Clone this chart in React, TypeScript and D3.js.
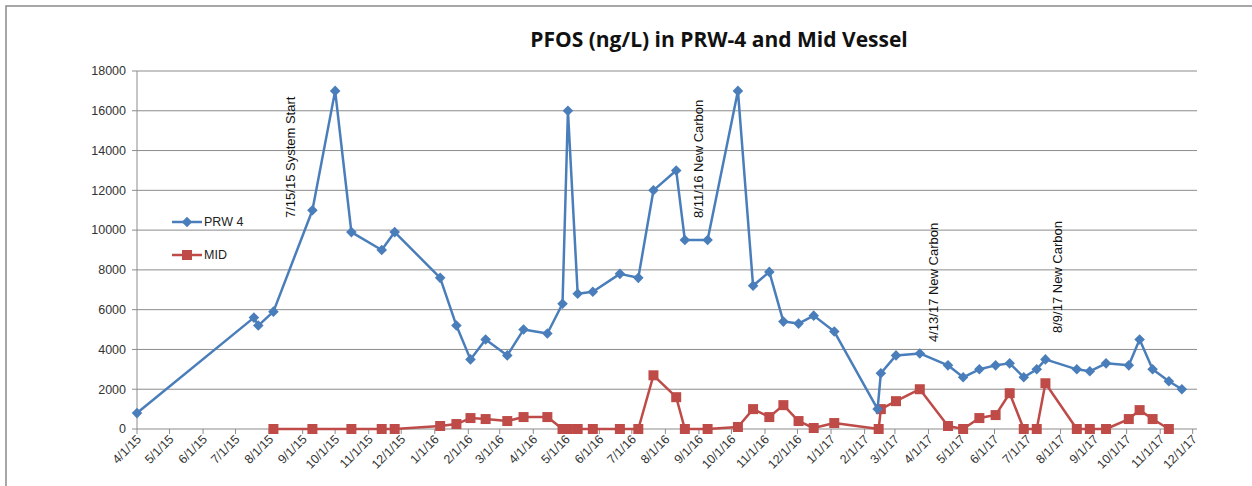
import React from 'react';
import * as d3 from 'd3';

// PRW-4 samples (date, PFOS ng/L)
const prwDates = [
  '4/1/15', '7/18/15', '7/22/15', '8/5/15', '9/10/15', '10/1/15', '10/16/15', '11/13/15', '11/25/15',
  '1/6/16', '1/21/16', '2/3/16', '2/17/16', '3/8/16', '3/23/16', '4/14/16', '4/28/16', '5/3/16',
  '5/12/16', '5/26/16', '6/20/16', '7/7/16', '7/21/16', '8/11/16', '8/19/16', '9/9/16', '10/7/16',
  '10/21/16', '11/5/16', '11/18/16', '12/2/16', '12/16/16', '1/4/17', '2/13/17', '2/16/17', '3/2/17',
  '3/24/17', '4/19/17', '5/3/17', '5/18/17', '6/2/17', '6/15/17', '6/28/17', '7/10/17', '7/18/17',
  '8/16/17', '8/28/17', '9/12/17', '10/3/17', '10/13/17', '10/25/17', '11/9/17', '11/21/17',
];
const prwValues = [
  800, 5600, 5200, 5900, 11000, 17000, 9900, 9000, 9900,
  7600, 5200, 3500, 4500, 3700, 5000, 4800, 6300, 16000,
  6800, 6900, 7800, 7600, 12000, 13000, 9500, 9500, 17000,
  7200, 7900, 5400, 5300, 5700, 4900, 1000, 2800, 3700,
  3800, 3200, 2600, 3000, 3200, 3300, 2600, 3000, 3500,
  3000, 2900, 3300, 3200, 4500, 3000, 2400, 2000,
];

// Mid vessel samples
const midDates = [
  '8/5/15', '9/10/15', '10/16/15', '11/13/15', '11/25/15', '1/6/16', '1/21/16', '2/3/16',
  '2/17/16', '3/8/16', '3/23/16', '4/14/16', '4/28/16', '5/3/16', '5/12/16', '5/26/16',
  '6/20/16', '7/7/16', '7/21/16', '8/11/16', '8/19/16', '9/9/16', '10/7/16', '10/21/16',
  '11/5/16', '11/18/16', '12/2/16', '12/16/16', '1/4/17', '2/14/17', '2/16/17', '3/2/17',
  '3/24/17', '4/19/17', '5/3/17', '5/18/17', '6/2/17', '6/15/17', '6/28/17', '7/10/17',
  '7/18/17', '8/16/17', '8/28/17', '9/12/17', '10/3/17', '10/13/17', '10/25/17', '11/9/17',
];
const midValues = [
  0, 0, 0, 0, 0, 150, 250, 550,
  500, 400, 600, 600, 0, 0, 0, 0,
  0, 0, 2700, 1600, 0, 0, 100, 1000,
  600, 1200, 400, 50, 300, 0, 1000, 1400,
  2000, 150, 0, 550, 700, 1800, 0, 0,
  2300, 0, 0, 0, 500, 950, 500, 0,
];

const seriesNames = ['PRW 4', 'MID'];
const seriesColors = ['#4A7EBB', '#BE4B48'];
const yTicks = [0, 2000, 4000, 6000, 8000, 10000, 12000, 14000, 16000, 18000];
const xStart = '4/1/15';
const xEnd = '12/5/17';

const notes = [
  { label: '7/15/15  System Start', x: 290, yBottom: 218 },
  { label: '8/11/16 New Carbon', x: 698, yBottom: 218 },
  { label: '4/13/17  New Carbon', x: 933, yBottom: 342 },
  { label: '8/9/17  New Carbon', x: 1057, yBottom: 333 },
];

const width = 1252;
const height = 486;
const plot = { left: 137, right: 1197, top: 71, bottom: 429 };

const parse = d3.timeParse('%m/%d/%y');
const fmt = d3.timeFormat('%-m/%-d/%y');

export default function App() {
  const x = d3.scaleTime()
    .domain([parse(xStart), parse(xEnd)])
    .range([plot.left, plot.right]);
  const y = d3.scaleLinear()
    .domain([0, 18000])
    .range([plot.bottom, plot.top]);

  const prw = prwDates.map((d, i) => ({ date: parse(d), value: prwValues[i] }));
  const mid = midDates.map((d, i) => ({ date: parse(d), value: midValues[i] }));

  const line = d3.line<any>().x(d => x(d.date)).y(d => y(d.value));
  const diamond = d3.symbol(d3.symbolSquare, 56)();
  const square = d3.symbol(d3.symbolSquare, 100)();

  const months = d3.timeMonth.range(parse(xStart), d3.timeDay.offset(parse('12/1/17'), 1));

  const font = 'Liberation Sans, Arial, sans-serif';

  return (
    <svg width={width} height={height} style={{ position: 'absolute', left: 0, top: 0, background: '#fff' }}>
      <rect x={6} y={6} width={1300} height={600} fill="#fff" stroke="#8a8a8a" strokeWidth={1.5} />

      <text x={719} y={47} textAnchor="middle" fontFamily="Open Sans, sans-serif" fontWeight={700}
        fontSize={21} fill="#111">PFOS (ng/L) in PRW-4 and Mid Vessel</text>

      {/* gridlines and y axis */}
      {yTicks.map(t => (
        <g key={t}>
          <line x1={plot.left} x2={plot.right} y1={y(t)} y2={y(t)} stroke="#8c8c8c" strokeWidth={1} />
          <line x1={plot.left - 5} x2={plot.left} y1={y(t)} y2={y(t)} stroke="#8c8c8c" strokeWidth={1} />
          <text x={plot.left - 11} y={y(t)} dy="0.35em" textAnchor="end" fontFamily={font}
            fontSize={12.5} fill="#333">{t}</text>
        </g>
      ))}
      <line x1={plot.left} x2={plot.left} y1={plot.top} y2={plot.bottom} stroke="#8c8c8c" strokeWidth={1} />

      {/* x axis */}
      {months.map(m => (
        <g key={m.getTime()} transform={`translate(${x(m)},${plot.bottom})`}>
          <line y1={0} y2={5} stroke="#8c8c8c" strokeWidth={1} />
          <text transform="translate(5,11) rotate(-45)" textAnchor="end" fontFamily={font}
            fontSize={12.5} fill="#333">{fmt(m)}</text>
        </g>
      ))}

      {/* series */}
      <path d={line(mid) || ''} fill="none" stroke={seriesColors[1]} strokeWidth={2.5} strokeLinejoin="round" />
      {mid.map((d, i) => (
        <path key={i} d={square || ''} transform={`translate(${x(d.date)},${y(d.value)})`} fill={seriesColors[1]} />
      ))}
      <path d={line(prw) || ''} fill="none" stroke={seriesColors[0]} strokeWidth={2.5} strokeLinejoin="round" />
      {prw.map((d, i) => (
        <path key={i} d={diamond || ''} transform={`translate(${x(d.date)},${y(d.value)}) rotate(45)`} fill={seriesColors[0]} />
      ))}

      {/* annotations */}
      {notes.map(n => (
        <text key={n.label} transform={`translate(${n.x + 4.5},${n.yBottom}) rotate(-90)`} fontFamily={font}
          fontSize={13} fill="#111">{n.label}</text>
      ))}

      {/* legend */}
      {seriesNames.map((s, i) => {
        const ly = 222 + i * 33;
        return (
          <g key={s}>
            <line x1={172} x2={202} y1={ly} y2={ly} stroke={seriesColors[i]} strokeWidth={2.5} />
            <path d={(i === 0 ? diamond : square) || ''}
              transform={`translate(187,${ly})${i === 0 ? ' rotate(45)' : ''}`} fill={seriesColors[i]} />
            <text x={204} y={ly} dy="0.35em" fontFamily={font} fontSize={12.5} fill="#222">{s}</text>
          </g>
        );
      })}
    </svg>
  );
}
